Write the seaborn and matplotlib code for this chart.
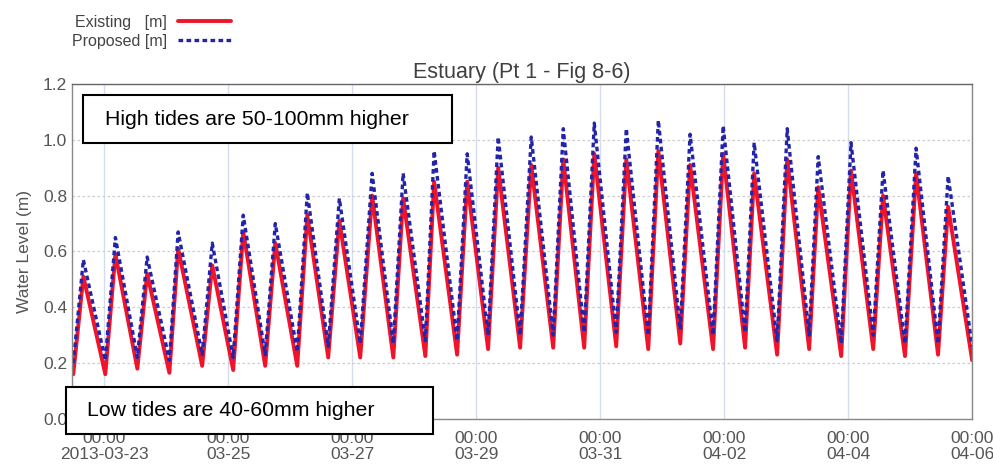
import numpy as np
import pandas as pd
import matplotlib
matplotlib.use('Agg')
import matplotlib.pyplot as plt
import matplotlib.dates as mdates
from matplotlib.ticker import MultipleLocator, FixedLocator
from matplotlib.patches import Rectangle
import seaborn as sns

# turning points of the tide, hours from 2013-03-23 00:00 (start, then high/low alternating)
hours = [-12.0, -8.1, 0.4, 4.3, 12.8, 16.6, 25.2, 28.6, 37.9, 41.8, 49.9,
         53.8, 62.3, 66.2, 74.7, 78.6, 86.7, 91.0, 99.1, 103.7, 111.9,
         115.7, 124.3, 127.7, 136.6, 140.5, 148.6, 152.5, 161.0, 165.3, 173.8,
         177.7, 185.8, 189.7, 198.2, 202.1, 210.6, 214.5, 223.0, 226.8, 235.7,
         239.6, 248.1, 251.6, 260.5, 264.4, 272.9, 276.4, 285.3, 289.1, 297.7,
         301.5, 310.0, 314.3, 322.8, 326.7, 336.0]

existing = [0.16, 0.51, 0.16, 0.59, 0.18, 0.52, 0.165, 0.61, 0.19, 0.55, 0.175,
            0.67, 0.19, 0.63, 0.19, 0.73, 0.22, 0.71, 0.22, 0.80, 0.22,
            0.79, 0.225, 0.85, 0.23, 0.85, 0.25, 0.90, 0.255, 0.91, 0.255,
            0.93, 0.255, 0.95, 0.26, 0.93, 0.25, 0.96, 0.27, 0.91, 0.25,
            0.95, 0.255, 0.88, 0.23, 0.93, 0.25, 0.83, 0.225, 0.89, 0.25,
            0.80, 0.225, 0.88, 0.23, 0.76, 0.21]

proposed = [0.20, 0.57, 0.21, 0.65, 0.22, 0.58, 0.21, 0.67, 0.23, 0.63, 0.22,
            0.73, 0.23, 0.70, 0.24, 0.81, 0.26, 0.79, 0.27, 0.88, 0.27,
            0.88, 0.28, 0.96, 0.28, 0.95, 0.30, 1.01, 0.30, 1.01, 0.30,
            1.04, 0.31, 1.06, 0.31, 1.04, 0.30, 1.07, 0.32, 1.02, 0.30,
            1.05, 0.31, 0.99, 0.28, 1.04, 0.30, 0.94, 0.27, 0.99, 0.30,
            0.89, 0.27, 0.97, 0.27, 0.87, 0.26]

tick_days = ['2013-03-23', '2013-03-25', '2013-03-27', '2013-03-29',
             '2013-03-31', '2013-04-02', '2013-04-04', '2013-04-06']
tick_labels = ['00:00\n2013-03-23', '00:00\n03-25', '00:00\n03-27', '00:00\n03-29',
               '00:00\n03-31', '00:00\n04-02', '00:00\n04-04', '00:00\n04-06']

sns.set_style('white')
plt.rcParams['font.family'] = ['Liberation Sans', 'DejaVu Sans']

base = pd.Timestamp('2013-03-23')
df = pd.DataFrame({'time': base + pd.to_timedelta(hours, unit='h'),
                   'Existing': existing, 'Proposed': proposed})

fig = plt.figure(figsize=(9.93, 4.68), dpi=100)
ax = fig.add_axes([0.0725, 0.105, 0.9065, 0.7155])

sns.lineplot(data=df, x='time', y='Existing', ax=ax, color='#f0142a', lw=2.8,
             label='Existing   [m]')
sns.lineplot(data=df, x='time', y='Proposed', ax=ax, color='#2424a8', lw=2.4,
             linestyle=(0, (1.4, 1.0)), label='Proposed [m]')
if ax.get_legend():
    ax.get_legend().remove()

ax.set_xlim(pd.Timestamp('2013-03-22 11:30'), pd.Timestamp('2013-04-06 00:00'))
ax.set_ylim(0, 1.2)

ax.xaxis.set_major_locator(FixedLocator(mdates.date2num(pd.to_datetime(tick_days))))
ax.set_xticklabels(tick_labels)
ax.xaxis.set_minor_locator(mdates.HourLocator(byhour=range(0, 24, 3)))
ax.yaxis.set_major_locator(MultipleLocator(0.2))
ax.yaxis.set_minor_locator(MultipleLocator(0.02))
ax.yaxis.set_major_formatter(matplotlib.ticker.FormatStrFormatter('%.1f'))

ax.tick_params(which='major', direction='in', length=5, width=0.8, colors='#777777',
               labelcolor='#555555', labelsize=12.5)
ax.tick_params(axis='x', which='major', pad=9)
ax.tick_params(which='minor', direction='in', length=3, width=0.6, colors='#888888')
for lab in ax.get_xticklabels():
    lab.set_linespacing(1.05)

ax.grid(True, axis='x', which='major', color='#d4dcee', lw=1.0)
ax.grid(True, axis='y', which='major', color='#cccccc', lw=0.9, linestyle=(0, (2, 2)))

for s in ax.spines.values():
    s.set_color('#888888')
    s.set_linewidth(1.0)
ax.spines['top'].set_color('#666666')

ax.set_xlabel('')
ax.set_ylabel('Water Level (m)', color='#555555', fontsize=12.5, labelpad=8)
ax.set_title('Estuary (Pt 1 - Fig 8-6)', color='#404040', fontsize=15.5, pad=4)

handles, labels = ax.get_legend_handles_labels()
fig.legend(handles, labels, loc='upper left', bbox_to_anchor=(0.0725, 0.968),
           frameon=False, markerfirst=False, fontsize=11.5, handlelength=3.3,
           handletextpad=0.7, labelspacing=0.25, borderpad=0, borderaxespad=0,
           labelcolor='#444444')

# annotation boxes
fig.add_artist(Rectangle((0.0836, 0.6944), 0.3716, 0.1026, transform=fig.transFigure,
                         facecolor='white', edgecolor='black', lw=1.5, zorder=5))
fig.text(0.1057, 0.7457, 'High tides are 50-100mm higher', fontsize=15.3,
         va='center', ha='left', color='black', zorder=6)
fig.add_artist(Rectangle((0.0665, 0.0726), 0.3696, 0.1004, transform=fig.transFigure,
                         facecolor='white', edgecolor='black', lw=1.5, zorder=5))
fig.text(0.0876, 0.1239, 'Low tides are 40-60mm higher', fontsize=15.3,
         va='center', ha='left', color='black', zorder=6)

fig.savefig('out.png', dpi=100)
